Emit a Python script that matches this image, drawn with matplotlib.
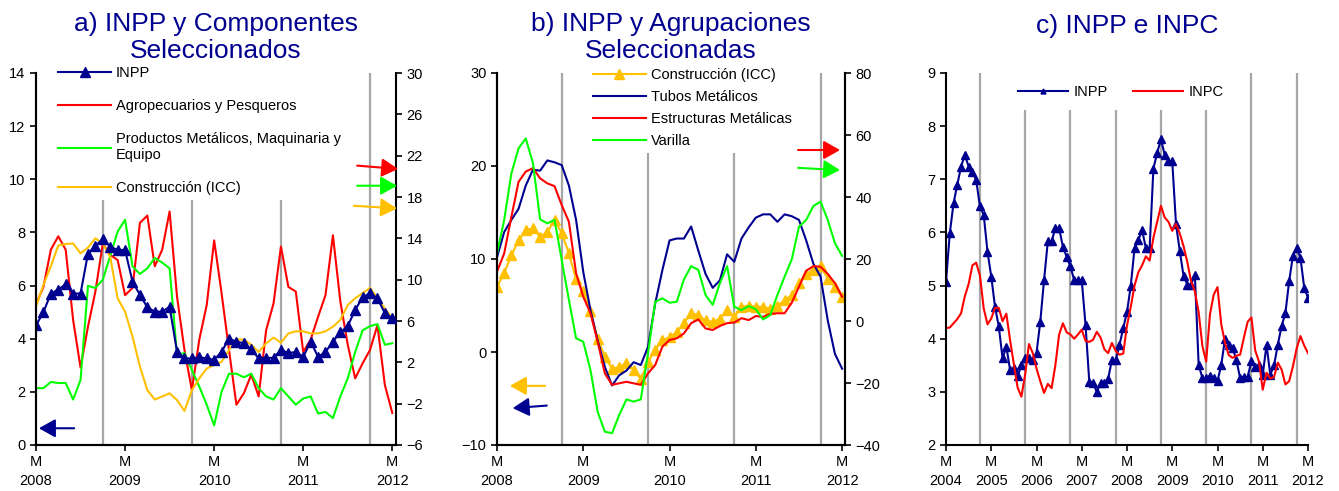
import numpy as np
import matplotlib
matplotlib.use('Agg')
import matplotlib.pyplot as plt

plt.rcParams['font.family'] = ['Liberation Sans', 'DejaVu Sans']

NAVY = '#000090'
RED = '#FF0000'
GREEN = '#00FF00'
GOLD = '#FFC000'
GRIS = '#A6A6A6'

# variaciones % anuales, mensual, marzo 2008 - marzo 2012
inpp = [4.5, 5.0, 5.7, 5.85, 6.05, 5.7, 5.7, 7.2, 7.5, 7.75,
        7.46, 7.34, 7.34, 6.15, 5.65, 5.18, 5.02, 5.02, 5.2, 3.51, 3.26, 3.26,
        3.3, 3.26, 3.2, 3.51, 4.0, 3.89, 3.83, 3.6, 3.26, 3.28, 3.28, 3.58,
        3.46, 3.5, 3.32, 3.89, 3.32, 3.5, 3.89, 4.24, 4.48, 5.08, 5.56, 5.71,
        5.52, 4.96, 4.77]
agropecuarios = [7.6, 9.3, 12.9, 14.2, 12.9, 6.1, 1.5, 5.45, 8.85, 13.5,
                 12.4, 11.9, 8.5, 9.2, 15.5, 16.2, 11.3, 12.9, 16.6, 8.35, 3.2, -0.7,
                 4.2, 7.55, 13.8, 8.7, 3.2, -2.1, -1.0, 0.8, -1.3, 5.1, 7.7, 13.2,
                 9.3, 8.85, 3.0, 4.2, 6.4, 8.5, 14.3, 7.9, 3.7, 0.45, 1.9, 3.2,
                 5.6, -0.2, -2.9]
prod_metalicos = [-0.5, -0.5, 0.1, 0.0, 0.0, -1.6, 0.3, 9.4, 9.2, 10.0,
                  12.3, 14.65, 15.8, 11.3, 10.55, 11.1, 12.1, 11.65, 11.1, 2.7, 2.9, 1.25,
                  -0.35, -2.1, -4.1, -0.85, 0.9, 0.9, 0.55, 0.9, -0.5, -1.3, -1.6, -0.5,
                  -1.3, -2.1, -1.5, -1.3, -2.95, -2.8, -3.4, -1.3, 0.45, 3.0, 5.1, 5.5,
                  5.7, 3.7, 3.85]
icc_a = [7.4, 9.5, 11.3, 13.3, 13.45, 13.5, 12.55, 13.1, 14.0, 13.5,
         12.2, 8.2, 6.9, 4.5, 1.6, -0.7, -1.6, -1.3, -1.0, -1.65, -2.7, -0.7,
         0.45, 1.4, 1.75, 2.05, 3.2, 4.2, 4.2, 3.7, 3.0, 3.85, 4.4, 3.9,
         4.8, 5.0, 5.0, 4.8, 4.8, 5.0, 5.45, 6.1, 7.55, 8.2, 8.7, 9.2,
         8.2, 7.2, 6.25]

icc_b = [7.0, 8.5, 10.4, 12.0, 13.1, 13.3, 12.4, 12.9, 14.2, 12.8,
         10.6, 7.8, 6.6, 4.4, 1.4, -0.5, -1.8, -1.6, -1.2, -1.9, -2.9, -1.1,
         0.25, 1.25, 1.6, 2.15, 3.1, 4.2, 3.95, 3.4, 3.2, 3.6, 4.55, 3.75,
         4.85, 5.0, 4.85, 4.85, 4.65, 5.0, 5.55, 6.1, 7.4, 8.35, 8.85, 9.2,
         7.9, 7.0, 5.9]
tubos = [10.2, 12.9, 14.2, 15.4, 17.9, 19.6, 19.5, 20.6, 20.4, 20.1,
         17.9, 14.2, 8.6, 4.5, 1.25, -1.6, -3.6, -2.5, -2.0, -1.1, -1.4, 0.55,
         5.2, 8.8, 12.0, 12.2, 12.2, 13.5, 10.9, 8.4, 6.9, 7.7, 10.5, 9.7,
         12.2, 13.4, 14.45, 14.8, 14.8, 14.0, 14.8, 14.6, 14.2, 12.0, 9.5, 8.1,
         3.4, -0.2, -1.8]
estructuras = [15.9, 21.8, 33.6, 44.9, 48.2, 49.3, 46.0, 44.4, 43.5, 37.4,
               32.0, 15.4, 7.8, 2.5, -6.7, -16.9, -20.6, -20.1, -19.6, -20.1, -20.6, -16.9,
               -14.2, -8.3, -6.1, -5.6, -4.0, -0.7, 0.5, -2.4, -2.9, -1.6, -0.7, -0.5,
               0.9, 0.3, 1.6, 1.3, 2.3, 2.5, 2.5, 5.9, 11.1, 16.2, 17.7, 17.5,
               15.2, 12.2, 7.8]
varilla = [21.8, 32.6, 47.6, 55.7, 58.9, 50.9, 32.8, 31.5, 32.6, 19.7,
           6.8, -5.6, -6.7, -15.8, -29.3, -35.7, -36.2, -30.3, -25.3, -26.0, -25.3, -10.4,
           6.2, 7.3, 5.9, 6.2, 13.4, 17.7, 16.5, 8.4, 5.2, 12.2, 17.7, 4.6,
           3.5, 4.8, 3.8, 0.5, 1.9, 8.4, 14.3, 19.9, 30.4, 32.6, 37.1, 38.5,
           32.6, 25.1, 21.0]

# INPP marzo 2004 - febrero 2008 (sigue con la serie inpp)
inpp_04_08 = [5.07, 5.98, 6.55, 6.9, 7.24, 7.46, 7.24, 7.14, 6.99, 6.49,
              6.33, 5.64, 5.17, 4.6, 4.23, 3.63, 3.85, 3.41, 3.44, 3.29, 3.51, 3.63,
              3.63, 3.6, 3.73, 4.32, 5.1, 5.83, 5.83, 6.08, 6.08, 5.73, 5.54, 5.36,
              5.1, 5.1, 5.1, 4.26, 3.19, 3.16, 3.0, 3.16, 3.16, 3.25, 3.6, 3.6,
              3.88, 4.2]
inpc = [4.2, 4.21, 4.29, 4.37, 4.48, 4.8, 5.03, 5.38, 5.43, 5.19,
        4.57, 4.27, 4.38, 4.58, 4.58, 4.33, 4.47, 3.97, 3.52, 3.08, 2.91, 3.33,
        3.9, 3.73, 3.44, 3.2, 2.98, 3.15, 3.07, 3.5, 4.08, 4.29, 4.12, 4.08,
        4.0, 4.08, 4.17, 3.96, 3.94, 3.98, 4.13, 4.02, 3.8, 3.73, 3.92, 3.77,
        3.7, 3.72, 4.25, 4.6, 5.0, 5.25, 5.38, 5.55, 5.47, 5.9, 6.2, 6.5,
        6.28, 6.2, 6.03, 6.16, 5.98, 5.74, 5.44, 5.08, 4.89, 4.5, 3.86, 3.57,
        4.46, 4.83, 4.97, 4.27, 3.92, 3.69, 3.64, 3.68, 3.7, 4.02, 4.32, 4.4,
        3.78, 3.57, 3.04, 3.36, 3.25, 3.28, 3.55, 3.42, 3.14, 3.2, 3.48, 3.82,
        4.05, 3.87, 3.73]
inpp_c = inpp_04_08 + inpp

anios_ab = [2008, 2009, 2010, 2011, 2012]
anios_c = list(range(2004, 2013))

W, H = 1339, 491
fig = plt.figure(figsize=(W / 100, H / 100), dpi=100)


def caja(x0, x1):
    return [x0 / W, 46 / H, (x1 - x0) / W, 372 / H]


def formato(ax, anios, xmax):
    ax.set_xlim(0, xmax)
    ax.set_xticks(np.arange(len(anios)) * 12)
    ax.set_xticklabels(['M\n%d' % a for a in anios], linespacing=1.45)
    ax.tick_params(direction='out', length=4, width=1.2, labelsize=10.5, colors='black')
    ax.spines['top'].set_visible(False)
    for s in ['left', 'bottom', 'right']:
        ax.spines[s].set_linewidth(1.5)


def lineas_dic(ax, n):
    for x in np.arange(9, n, 12):
        ax.axvline(x, color=GRIS, lw=1.6, zorder=0)


def flecha(ax, cola, punta, color):
    ax.annotate('', xy=punta, xytext=cola, xycoords='axes fraction',
                textcoords='axes fraction', annotation_clip=False,
                arrowprops=dict(arrowstyle='-|>,head_length=0.5,head_width=0.28',
                                color=color, lw=1.5, mutation_scale=20,
                                shrinkA=0, shrinkB=0))


# ---------- a)
ax = fig.add_axes(caja(36, 396))
ax2 = ax.twinx()
ax.set_zorder(ax2.get_zorder() + 1)
ax.patch.set_visible(False)
x = np.arange(len(inpp))
lineas_dic(ax2, len(inpp))
l1, = ax.plot(x, inpp, color=NAVY, lw=1.5, marker='^', ms=7, label='INPP')
l2, = ax2.plot(x, agropecuarios, color=RED, lw=1.5, label='Agropecuarios y Pesqueros')
l3, = ax2.plot(x, prod_metalicos, color=GREEN, lw=1.5,
               label='Productos Metálicos, Maquinaria y\nEquipo')
l4, = ax2.plot(x, icc_a, color=GOLD, lw=1.5, label='Construcción (ICC)')
formato(ax, anios_ab, 48.5)
formato(ax2, anios_ab, 48.5)
ax.spines['right'].set_visible(False)
ax.set_ylim(0, 14)
ax.set_yticks(range(0, 15, 2))
ax2.set_ylim(-6, 30)
ax2.set_yticks(range(-6, 31, 4))
ax.set_title('a) INPP y Componentes\nSeleccionados', color=NAVY, fontsize=19,
             pad=11, linespacing=1.15)
ax.legend(handles=[l1, l2, l3, l4], loc='upper left', bbox_to_anchor=(0.05, 1.03),
          fontsize=10.5, frameon=True, facecolor='white', edgecolor='none',
          framealpha=1, handlelength=3.6, handletextpad=0.35, labelspacing=1.3,
          borderpad=0.3, borderaxespad=0)
flecha(ax, (0.892, 0.751), (1.006, 0.742), RED)
flecha(ax, (0.892, 0.697), (1.003, 0.697), GREEN)
flecha(ax, (0.883, 0.643), (1.003, 0.636), GOLD)
flecha(ax, (0.106, 0.045), (0.008, 0.045), NAVY)

# ---------- b)
bx = fig.add_axes(caja(497, 845))
bx2 = bx.twinx()
x = np.arange(len(icc_b))
lineas_dic(bx, len(icc_b))
m1, = bx.plot(x, icc_b, color=GOLD, lw=1.5, marker='^', ms=7, label='Construcción (ICC)')
m2, = bx.plot(x, tubos, color=NAVY, lw=1.5, label='Tubos Metálicos')
m3, = bx2.plot(x, estructuras, color=RED, lw=1.5, label='Estructuras Metálicas')
m4, = bx2.plot(x, varilla, color=GREEN, lw=1.5, label='Varilla')
formato(bx, anios_ab, 48.4)
formato(bx2, anios_ab, 48.4)
bx.set_ylim(-10, 30)
bx.set_yticks(range(-10, 31, 10))
bx2.set_ylim(-40, 80)
bx2.set_yticks(range(-40, 81, 20))
bx.set_title('b) INPP y Agrupaciones\nSeleccionadas', color=NAVY, fontsize=19,
             pad=11, linespacing=1.15)
bx2.legend(handles=[m1, m2, m3, m4], loc='upper left', bbox_to_anchor=(0.264, 1.025),
           fontsize=10.5, frameon=True, facecolor='white', edgecolor='none',
           framealpha=1, handlelength=3.6, handletextpad=0.35, labelspacing=0.55,
           borderpad=0.3, borderaxespad=0)
flecha(bx2, (0.865, 0.793), (0.986, 0.793), RED)
flecha(bx2, (0.865, 0.745), (0.986, 0.739), GREEN)
flecha(bx2, (0.138, 0.159), (0.037, 0.159), GOLD)
flecha(bx2, (0.143, 0.106), (0.045, 0.099), NAVY)

# ---------- c)
cx = fig.add_axes(caja(946, 1308))
x = np.arange(len(inpp_c))
lineas_dic(cx, len(inpp_c))
n1, = cx.plot(x, inpp_c, color=NAVY, lw=1.5, marker='^', ms=6, label='INPP')
n2, = cx.plot(x, inpc, color=RED, lw=1.5, label='INPC')
formato(cx, anios_c, 96)
cx.spines['right'].set_visible(False)
cx.set_ylim(2, 9)
cx.set_yticks(range(2, 10))
cx.set_title('c) INPP e INPC', color=NAVY, fontsize=19, pad=29)
cx.legend(handles=[n1, n2], loc='upper left', bbox_to_anchor=(0.168, 1.0), ncol=2,
          fontsize=10.5, frameon=True, facecolor='white', edgecolor='none',
          framealpha=1, handlelength=3.4, handletextpad=0.4, columnspacing=1.7,
          markerscale=0.6, borderpad=0.8, borderaxespad=0)

fig.savefig('out.png', dpi=100)
